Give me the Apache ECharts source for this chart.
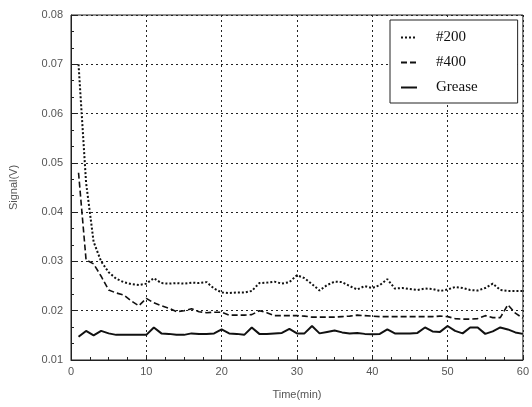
<!DOCTYPE html>
<html>
<head>
<meta charset="utf-8">
<script src="https://cdn.jsdelivr.net/npm/echarts@6/dist/echarts.min.js"></script>
<style>
  html, body { margin: 0; padding: 0; background: #fff; }
  #main { width: 532px; height: 407px; }
</style>
</head>
<body>
<div id="main"></div>
<script>
// time in minutes
const minutes = [1, 2, 3, 4, 5, 6, 7, 8, 9, 10, 11, 12, 13, 14, 15, 16, 17, 18, 19, 20,
  21, 22, 23, 24, 25, 26, 27, 28, 29, 30, 31, 32, 33, 34, 35, 36, 37, 38, 39, 40,
  41, 42, 43, 44, 45, 46, 47, 48, 49, 50, 51, 52, 53, 54, 55, 56, 57, 58, 59, 60];

const s200 = [0.070, 0.046, 0.034, 0.030, 0.0278, 0.0265, 0.0258, 0.0254, 0.0252, 0.0255,
  0.0266, 0.0256, 0.0255, 0.0256, 0.0255, 0.0257, 0.0256, 0.0258, 0.0245, 0.0237,
  0.0236, 0.0237, 0.0237, 0.0240, 0.0256, 0.0257, 0.0259, 0.0255, 0.0258, 0.0272,
  0.0266, 0.0254, 0.0241, 0.0252, 0.0259, 0.0258, 0.0250, 0.0243, 0.0250, 0.0246,
  0.0252, 0.0264, 0.0245, 0.0246, 0.0244, 0.0242, 0.0245, 0.0244, 0.0240, 0.0243,
  0.0248, 0.0246, 0.0242, 0.0241, 0.0246, 0.0255, 0.0242, 0.0240, 0.0240, 0.0240];

const s400 = [0.048, 0.0303, 0.0295, 0.027, 0.0242, 0.0236, 0.0232, 0.0220, 0.0210, 0.0225,
  0.0216, 0.0210, 0.0205, 0.0198, 0.0200, 0.0204, 0.0198, 0.0196, 0.0197, 0.0197,
  0.0191, 0.0191, 0.0191, 0.0192, 0.0200, 0.0196, 0.0190, 0.0190, 0.0190, 0.0190,
  0.0189, 0.0187, 0.0187, 0.0187, 0.0187, 0.0188, 0.0189, 0.0191, 0.0190, 0.0189,
  0.0188, 0.0188, 0.0188, 0.0188, 0.0188, 0.0188, 0.0188, 0.0188, 0.0189, 0.0188,
  0.0184, 0.0183, 0.0183, 0.0184, 0.0190, 0.0186, 0.0186, 0.0212, 0.0195, 0.0185];

const grease = [0.0147, 0.0159, 0.0150, 0.0159, 0.0154, 0.0151, 0.0151, 0.0151, 0.0151, 0.0151,
  0.0166, 0.0154, 0.0153, 0.0151, 0.0151, 0.0154, 0.0153, 0.0153, 0.0154, 0.0162,
  0.0154, 0.0153, 0.0151, 0.0166, 0.0153, 0.0153, 0.0154, 0.0155, 0.0163, 0.0154,
  0.0154, 0.0169, 0.0154, 0.0157, 0.0160, 0.0156, 0.0154, 0.0155, 0.0153, 0.0152,
  0.0153, 0.0162, 0.0154, 0.0154, 0.0154, 0.0155, 0.0166, 0.0158, 0.0157, 0.0169,
  0.0159, 0.0154, 0.0166, 0.0166, 0.0153, 0.0158, 0.0166, 0.0162, 0.0156, 0.0153];

const seriesNames = ["#200", "#400", "Grease"];

function pairs(ys) {
  return minutes.map((t, i) => [t, ys[i]]);
}

const tickFont = { fontFamily: "Liberation Sans, Arial", fontSize: 11, color: "#555" };

const chart = echarts.init(document.getElementById("main"));
chart.setOption({
  animation: false,
  backgroundColor: "#fff",
  grid: {
    left: 67, right: 5, top: 15, bottom: 47,
    show: true, borderColor: "#222", borderWidth: 1
  },
  legend: {
    orient: "vertical",
    left: 390, top: 20,
    padding: [10, 40, 8, 10],
    itemGap: 10,
    itemWidth: 16,
    itemHeight: 14,
    backgroundColor: "#fff",
    borderColor: "#222",
    borderWidth: 1,
    itemStyle: { opacity: 0 },
    textStyle: { fontFamily: "Liberation Serif, Times New Roman", fontSize: 15, color: "#111", padding: [0, 0, 0, 14] },
    data: seriesNames
  },
  xAxis: {
    type: "value",
    min: 0, max: 60, interval: 10,
    name: "Time(min)",
    nameLocation: "middle",
    nameGap: 29,
    nameTextStyle: { fontFamily: "Liberation Sans, Arial", fontSize: 11, color: "#555" },
    axisLine: { lineStyle: { color: "#222" } },
    axisTick: { inside: true, length: 5, lineStyle: { color: "#222" } },
    minorTick: { show: true, splitNumber: 4, length: 3, lineStyle: { color: "#222" } },
    axisLabel: Object.assign({ margin: 6 }, tickFont),
    splitLine: { lineStyle: { color: "#222", type: [2, 3], width: 1 } }
  },
  yAxis: {
    type: "value",
    min: 0.01, max: 0.08, interval: 0.01,
    name: "Signal(V)",
    nameLocation: "middle",
    nameGap: 52,
    nameTextStyle: { fontFamily: "Liberation Sans, Arial", fontSize: 11, color: "#555" },
    axisLine: { show: true, lineStyle: { color: "#222" } },
    axisTick: { show: true, inside: true, length: 5, lineStyle: { color: "#222" } },
    minorTick: { show: true, splitNumber: 3, length: 3, lineStyle: { color: "#222" } },
    axisLabel: Object.assign({ margin: 8, formatter: v => v.toFixed(2) }, tickFont),
    splitLine: { lineStyle: { color: "#222", type: [2, 3], width: 1 } }
  },
  series: [
    {
      name: seriesNames[0], type: "line", symbol: "none",
      data: pairs(s200),
      lineStyle: { color: "#111", width: 2, type: [2, 2] },
      itemStyle: { color: "#111" }
    },
    {
      name: seriesNames[1], type: "line", symbol: "none",
      data: pairs(s400),
      lineStyle: { color: "#111", width: 1.6, type: [6, 3] },
      itemStyle: { color: "#111" }
    },
    {
      name: seriesNames[2], type: "line", symbol: "none",
      data: pairs(grease),
      lineStyle: { color: "#111", width: 2 },
      itemStyle: { color: "#111" }
    }
  ]
});
</script>
</body>
</html>
